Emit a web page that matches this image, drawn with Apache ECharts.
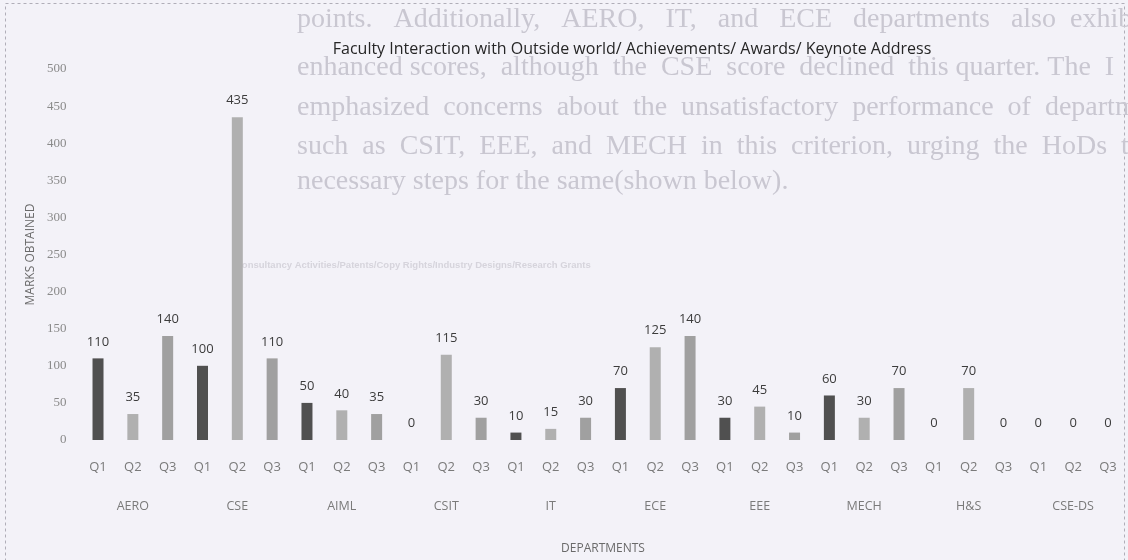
<!DOCTYPE html>
<html>
<head>
<meta charset="utf-8">
<script src="https://cdn.jsdelivr.net/npm/echarts@6/dist/echarts.min.js"></script>
<style>
html,body{margin:0;padding:0;background:#f3f2f8;}
#chart{width:1128px;height:560px;}
</style>
</head>
<body>
<div id="chart"></div>
<script>
const departments = ['AERO','CSE','AIML','CSIT','IT','ECE','EEE','MECH','H&S','CSE-DS'];
const quarters = ['Q1','Q2','Q3'];
const q1Values = [110,100,50,0,10,70,30,60,0,0];
const q2Values = [35,435,40,115,15,125,45,30,70,0];
const q3Values = [140,110,35,30,30,140,10,70,0,0];
const yTicks = [0,50,100,150,200,250,300,350,400,450,500];
const bleedLines = [
  'points.   Additionally,   AERO,   IT,   and   ECE   departments   also  exhibit',
  'enhanced scores,  although  the  CSE  score  declined  this quarter. The  I',
  'emphasized  concerns  about  the  unsatisfactory  performance  of  departm',
  'such  as  CSIT,  EEE,  and  MECH  in  this  criterion,  urging  the  HoDs  to',
  'necessary steps for the same(shown below).'
];
const bleedSubtitle = 'Consultancy Activities/Patents/Copy Rights/Industry Designs/Research Grants';

const quarterColors = ['#505050','#b0b0b0','#a0a0a0'];
const qSeries = [q1Values,q2Values,q3Values];
const categories = [];
const barData = [];
departments.forEach((d,i)=>{
  quarters.forEach((q,j)=>{
    categories.push(q);
    barData.push({value: qSeries[j][i], itemStyle:{color: quarterColors[j]}});
  });
});

const bleedY = [22,70,110,149,184];
const graphics = [
  {type:'rect', z:-10, silent:true, shape:{x:5.5,y:3.5,width:1119,height:600},
   style:{fill:'none',stroke:'#b0aeb8',lineWidth:1,lineDash:[3,3]}}
];
bleedLines.forEach((t,i)=>{
  graphics.push({type:'text', z:-9, silent:true, left:297, top:bleedY[i]-16,
    style:{text:t, font:'28px "Liberation Serif"', fill:'#c9c7d1'}});
});
graphics.push({type:'text', z:-9, silent:true, left:235, top:260,
  style:{text:bleedSubtitle, font:'bold 9.5px "Liberation Sans"', fill:'#d6d4dc'}});

const chart = echarts.init(document.getElementById('chart'));
chart.setOption({
  backgroundColor:'#f3f2f8',
  animation:false,
  title:{
    text:'Faculty Interaction with Outside world/ Achievements/ Awards/ Keynote Address',
    left:627, top:36, textAlign:'center',
    textStyle:{fontFamily:'Open Sans', fontSize:16, fontWeight:'normal', color:'#262626'}
  },
  graphic: graphics,
  grid:{left:80.6, right:2.6, top:69, bottom:119, containLabel:false},
  xAxis:[
    {type:'category', data:categories, position:'bottom',
     axisLine:{show:false}, axisTick:{show:false},
     axisLabel:{interval:0, margin:21, fontFamily:'Open Sans', fontSize:13, color:'#7a7a7a'},
     name:'DEPARTMENTS', nameLocation:'middle', nameGap:103,
     nameTextStyle:{fontFamily:'Open Sans', fontSize:12, color:'#6a6a6a'}
    },
    {type:'category', data:departments, position:'bottom', offset:39,
     axisLine:{show:false}, axisTick:{show:false},
     axisLabel:{interval:0, margin:21, fontFamily:'Open Sans', fontSize:12.5, color:'#7a7a7a'}
    }
  ],
  yAxis:{
    type:'value', min:yTicks[0], max:yTicks[yTicks.length-1], interval:50,
    axisLine:{show:false}, axisTick:{show:false}, splitLine:{show:false},
    axisLabel:{margin:14, fontFamily:'Liberation Serif', fontSize:13, color:'#8a8a8a'},
    name:'MARKS OBTAINED', nameLocation:'middle', nameGap:36,
    nameTextStyle:{fontFamily:'Open Sans', fontSize:12, color:'#6a6a6a'}
  },
  series:[{
    type:'bar', xAxisIndex:0, data:barData, barWidth:11,
    label:{show:true, position:'top', distance:10, fontFamily:'Open Sans', fontSize:13, color:'#3c3c3c'}
  }]
});
</script>
</body>
</html>
